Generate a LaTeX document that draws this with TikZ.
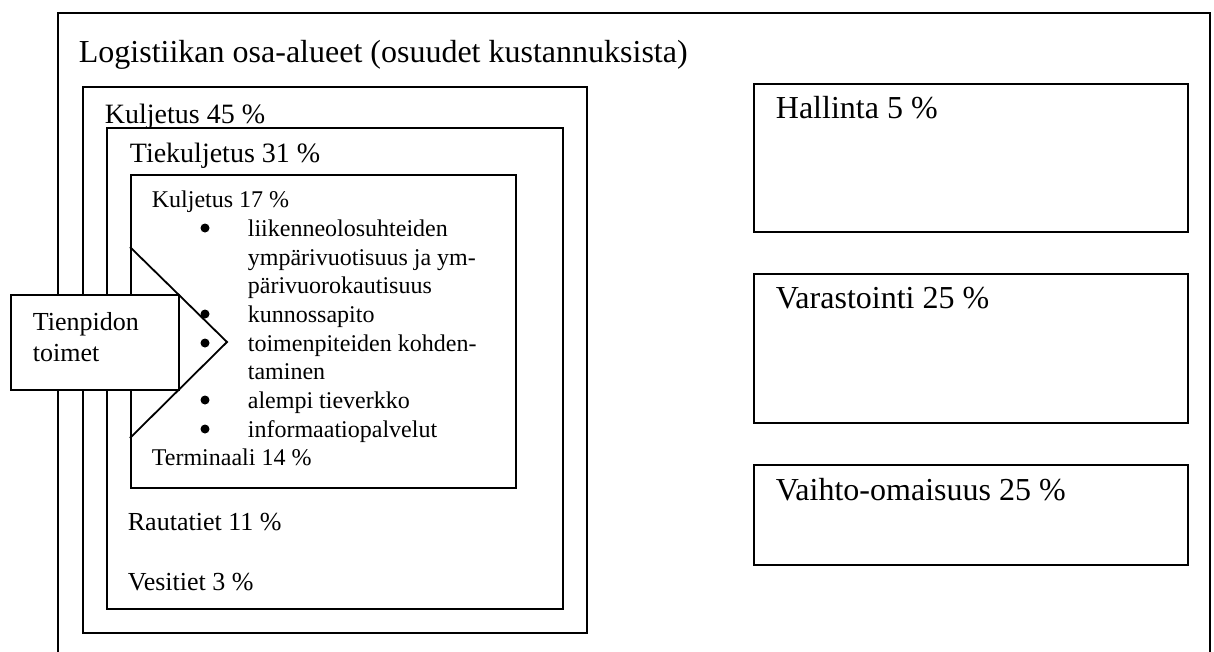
\documentclass[tikz,border=0pt]{standalone}
\usepackage{fontspec}
\setmainfont{Liberation Serif}
\begin{document}
\begin{tikzpicture}[x=1pt,y=-1pt,line width=1.8pt,
  frame/.style={draw,rectangle,inner sep=0pt,anchor=north west},
  lbl/.style={inner sep=0pt,anchor=base west},
  dot/.style={circle,fill,draw=none,inner sep=0pt,minimum size=9pt},
  big/.style={font=\fontsize{32}{38}\selectfont},
  mid/.style={font=\fontsize{28}{33}\selectfont},
  midsm/.style={font=\fontsize{26}{31}\selectfont},
  small/.style={font=\fontsize{24}{28.6}\selectfont},
  tp/.style={font=\fontsize{26}{31}\selectfont}]
\useasboundingbox (0,0) rectangle (1214,651);

% outer frame, open at the bottom
\coordinate (obl) at (58,660);
\coordinate (obr) at (1210,660);
\draw (obl) |- (1210,13) -- (obr);
\node[lbl,big] (title) at (78,62) {Logistiikan osa-alueet (osuudet kustannuksista)};

% transport boxes, nested
\node[frame,minimum width=504pt,minimum height=546pt] (k45) at (82,86) {};
\node[frame,minimum width=456pt,minimum height=481pt] (tie) at (106,127) {};
\node[frame,minimum width=385pt,minimum height=313pt] (k17) at (130,174) {};

\node[lbl,mid] (t45) at (104,123) {Kuljetus 45 \%};
\node[lbl,mid] (t31) at (129,162) {Tiekuljetus 31 \%};
\node[lbl,small] (t17) at (151,207) {Kuljetus 17 \%};

% bullet list
\foreach \yy/\bul/\txt [count=\i] in {
  236/1/liikenneolosuhteiden,
  265/0/{ympärivuotisuus ja ym-},
  293/0/pärivuorokautisuus,
  322/1/kunnossapito,
  351/1/{toimenpiteiden kohden-},
  379/0/taminen,
  408/1/alempi tieverkko,
  437/1/informaatiopalvelut}{
  \node[lbl,small] (li\i) at (247,\yy) {\txt};
  \ifnum\bul=1 \node[dot] (bu\i) at (205,\yy-8) {};\fi
}

\node[lbl,small] (t14) at (151,465) {Terminaali 14 \%};
\node[lbl,midsm] (t11) at (127,530) {Rautatiet 11 \%};
\node[lbl,midsm] (t3) at (127,590) {Vesitiet 3 \%};

% road maintenance arrow
\node[frame,fill=white,minimum width=168pt,minimum height=95pt] (tpbox) at (10,294) {};
\coordinate (ch1) at (130,247);
\coordinate (chtip) at (227,342);
\coordinate (ch2) at (130,438);
\draw (ch1) -- (chtip) -- (ch2);
\node[lbl,tp] (tp1) at (32,330) {Tienpidon};
\node[lbl,tp] (tp2) at (32,361) {toimet};

% right column
\node[frame,minimum width=434pt,minimum height=148pt] (hal) at (753,83) {};
\node[frame,minimum width=434pt,minimum height=149pt] (var) at (753,273) {};
\node[frame,minimum width=434pt,minimum height=100pt] (vai) at (753,464) {};
\node[lbl,big] (thal) at (775,118) {Hallinta 5 \%};
\node[lbl,big] (tvar) at (775,308) {Varastointi 25 \%};
\node[lbl,big] (tvai) at (775,500) {Vaihto-omaisuus 25 \%};
\end{tikzpicture}
\end{document}
